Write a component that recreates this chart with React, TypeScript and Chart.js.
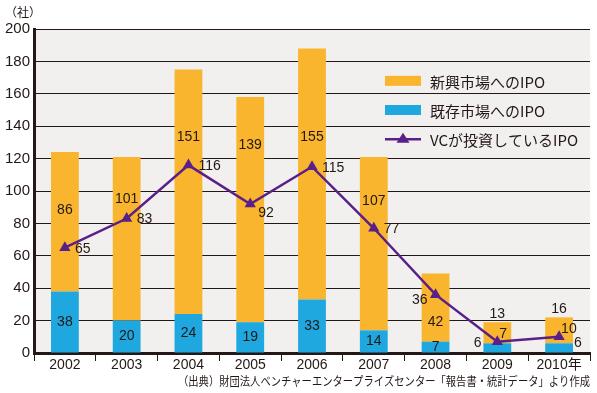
import { useEffect, useRef } from 'react';
import { Chart, registerables } from 'chart.js';

Chart.register(...registerables);

const years = ['2002', '2003', '2004', '2005', '2006', '2007', '2008', '2009', '2010年'];
const newMarket = [86, 101, 151, 139, 155, 107, 42, 13, 16];
const existingMarket = [38, 20, 24, 19, 33, 14, 7, 6, 6];
const vcBacked = [65, 83, 116, 92, 115, 77, 36, 7, 10];
const yMin = 0;
const yMax = 200;
const yStep = 20;

const seriesNames = ['新興市場へのIPO', '既存市場へのIPO', 'VCが投資しているIPO'];
const unitLabel = '（社）';
const sourceNote = '（出典）財団法人ベンチャーエンタープライズセンター「報告書・統計データ」より作成';

// label layout (annotation placement only)
const newLabelAt: (number | null)[] = [88, 95, 133, 128, 133, 94, 19, null, null];
const existingLabelPlace = ['c', 'c', 'c', 'c', 'c', 'c', 'c', 'l', 'r'];
const vcLabelPlace = ['r', 'r', 'r', 'br', 'r', 'r', 'l', 'ar', 'ar'];

const ORANGE = '#f8b52d';
const BLUE = '#1fa7e0';
const PURPLE = '#5a1f88';
const INK = '#231815';
const BG = '#f1f0ee';
const NUM_FONT = '14px "Liberation Sans Narrow", "Arial Narrow", "Liberation Sans", sans-serif';
const JP_FONT = '"Noto Sans CJK JP", "Noto Sans", sans-serif';

const bgPlugin = {
  id: 'bgArea',
  beforeDraw(chart: any) {
    const { ctx, chartArea } = chart;
    ctx.save();
    ctx.fillStyle = BG;
    ctx.fillRect(chartArea.left, chartArea.top, chartArea.right - chartArea.left, chartArea.bottom - chartArea.top);
    ctx.restore();
  },
};

const annotatePlugin = {
  id: 'annotate',
  afterDatasetsDraw(chart: any) {
    const { ctx } = chart;
    const yScale = chart.scales.y;
    const lineMeta = chart.getDatasetMeta(0);
    const blueMeta = chart.getDatasetMeta(1);
    const orangeMeta = chart.getDatasetMeta(2);
    ctx.save();
    ctx.fillStyle = INK;
    ctx.font = NUM_FONT;
    ctx.textBaseline = 'middle';
    years.forEach((_, i) => {
      const b = blueMeta.data[i];
      const bTop = b.y;
      const bBase = b.base;
      const half = b.width / 2;
      const place = existingLabelPlace[i];
      if (place === 'c') {
        ctx.textAlign = 'center';
        ctx.fillText(String(existingMarket[i]), b.x, (bTop + bBase) / 2);
      } else if (place === 'l') {
        ctx.textAlign = 'right';
        ctx.fillText(String(existingMarket[i]), b.x - half - 2, bBase - 9);
      } else {
        ctx.textAlign = 'left';
        ctx.fillText(String(existingMarket[i]), b.x + half + 1, bBase - 9);
      }
      const o = orangeMeta.data[i];
      const at = newLabelAt[i];
      ctx.textAlign = 'center';
      if (at === null) {
        ctx.fillText(String(newMarket[i]), o.x, o.y - 8);
      } else {
        ctx.fillText(String(newMarket[i]), o.x, yScale.getPixelForValue(at));
      }
      const p = lineMeta.data[i];
      const vp = vcLabelPlace[i];
      const t = String(vcBacked[i]);
      if (vp === 'r') {
        ctx.textAlign = 'left';
        ctx.fillText(t, p.x + 10, p.y + 1);
      } else if (vp === 'br') {
        ctx.textAlign = 'left';
        ctx.fillText(t, p.x + 8, p.y + 9);
      } else if (vp === 'l') {
        ctx.textAlign = 'right';
        ctx.fillText(t, p.x - 8, p.y + 5);
      } else {
        ctx.textAlign = 'left';
        ctx.fillText(t, p.x + 2, p.y - 8);
      }
    });

    const lx = chart.chartArea.left + 351;
    const rows = [168, 150, 132].map((v) => yScale.getPixelForValue(v));
    ctx.fillStyle = ORANGE;
    ctx.fillRect(lx, rows[0] - 5, 36, 10);
    ctx.fillStyle = BLUE;
    ctx.fillRect(lx, rows[1] - 5, 36, 10);
    ctx.strokeStyle = PURPLE;
    ctx.lineWidth = 2.5;
    ctx.beginPath();
    ctx.moveTo(lx, rows[2]);
    ctx.lineTo(lx + 36, rows[2]);
    ctx.stroke();
    ctx.fillStyle = PURPLE;
    ctx.beginPath();
    const cx = lx + 18;
    const cy = rows[2];
    ctx.moveTo(cx, cy - 6.5);
    ctx.lineTo(cx + 6.5, cy + 3.5);
    ctx.lineTo(cx - 6.5, cy + 3.5);
    ctx.closePath();
    ctx.fill();
    ctx.fillStyle = INK;
    ctx.font = '15px ' + JP_FONT;
    ctx.textAlign = 'left';
    seriesNames.forEach((n, k) => ctx.fillText(n, lx + 45, rows[k] + 1));
    ctx.restore();
  },
  afterDraw(chart: any) {
    const { ctx, width } = chart;
    ctx.save();
    ctx.fillStyle = INK;
    ctx.textBaseline = 'middle';
    ctx.font = '12px ' + JP_FONT;
    ctx.textAlign = 'left';
    ctx.fillText(unitLabel, 5, 12);
    ctx.textAlign = 'right';
    ctx.fillText(sourceNote, width - 7, 381, 412);
    ctx.restore();
  },
};

export default function App() {
  const ref = useRef<HTMLCanvasElement>(null);
  useEffect(() => {
    document.body.style.margin = '0';
    const canvas = ref.current;
    if (!canvas) return;
    const chart = new Chart(canvas, {
      type: 'bar',
      data: {
        labels: years,
        datasets: [
          {
            type: 'line',
            label: seriesNames[2],
            data: vcBacked,
            borderColor: PURPLE,
            backgroundColor: PURPLE,
            borderWidth: 2.5,
            pointStyle: 'triangle',
            pointRadius: 6.5,
            pointBackgroundColor: PURPLE,
            pointBorderColor: PURPLE,
            pointBorderWidth: 0,
            tension: 0,
            stack: 'vc',
          } as any,
          {
            type: 'bar',
            label: seriesNames[1],
            data: existingMarket,
            backgroundColor: BLUE,
            borderWidth: 0,
            stack: 'ipo',
            categoryPercentage: 1,
            barPercentage: 0.45,
          },
          {
            type: 'bar',
            label: seriesNames[0],
            data: newMarket,
            backgroundColor: ORANGE,
            borderWidth: 0,
            stack: 'ipo',
            categoryPercentage: 1,
            barPercentage: 0.45,
          },
        ],
      },
      options: {
        responsive: false,
        animation: false,
        devicePixelRatio: 1,
        layout: { padding: { left: 0, top: 29, right: 7, bottom: 0 } },
        plugins: {
          legend: { display: false },
          tooltip: { enabled: false },
        },
        scales: {
          x: {
            stacked: true,
            grid: {
              offset: true,
              drawOnChartArea: false,
              drawTicks: true,
              tickLength: 8,
              color: INK,
              lineWidth: 1,
            },
            border: { display: true, color: INK, width: 3 },
            ticks: {
              color: INK,
              font: { family: '"Liberation Sans", "Noto Sans CJK JP", sans-serif', size: 14 },
              padding: -4,
              maxRotation: 0,
              autoSkip: false,
            },
            afterFit(scale: any) {
              scale.height = 40;
            },
          },
          y: {
            stacked: true,
            min: yMin,
            max: yMax,
            ticks: {
              stepSize: yStep,
              color: INK,
              font: { family: '"Liberation Sans", sans-serif', size: 15 },
              padding: 4,
            },
            grid: { color: INK, lineWidth: 1, drawTicks: false },
            border: { display: true, color: INK, width: 3 },
            afterFit(scale: any) {
              scale.width = 34;
            },
          },
        },
      },
      plugins: [bgPlugin, annotatePlugin],
    });
    return () => chart.destroy();
  }, []);
  return (
    <div style={{ width: 597, height: 393 }}>
      <canvas ref={ref} width={597} height={393} style={{ display: 'block' }} />
    </div>
  );
}
